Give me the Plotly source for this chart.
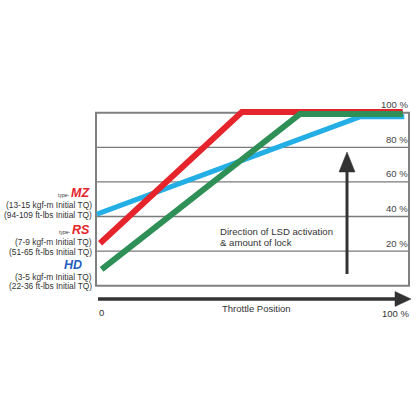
import plotly.graph_objects as go

# ---- data ----
throttle_mz = [0.3, 84.3, 98.5]      # blue, type-MZ
lock_mz = [41.4, 97.6, 97.6]
throttle_rs = [1.3, 46.6, 98.0]      # red, type-RS
lock_rs = [24.5, 100.4, 100.4]
throttle_hd = [1.8, 65.2, 98.0]      # green, type-HD
lock_hd = [9.5, 99.3, 99.3]
grid_levels = [20, 40, 60, 80, 100]
grid_labels = ["20 %", "40 %", "60 %", "80 %", "100 %"]

# ---- layout geometry (pixels) ----
W = H = 416
X0PX, X1PX = 96.0, 409.0       # data x = 0 .. 100
Y0PX, Y1PX = 285.7, 112.7      # data y = 0 .. 100
XR = [-3, 102]
YR = [-10, 110]


def xpx(v):
    return X0PX + v * (X1PX - X0PX) / 100.0


def ypx(v):
    return Y0PX - v * (Y0PX - Y1PX) / 100.0


def px(x):
    return x / W


def py(y):
    return 1 - y / H


FONT = "Liberation Sans, Arial, sans-serif"
RED = "#e5242b"
GREEN = "#2e8f57"
BLUE = "#23aee6"
DARK = "#333333"
GRID = "#7a7a7a"

fig = go.Figure()
fig.add_trace(go.Scatter(x=throttle_mz, y=lock_mz, mode="lines",
                         line=dict(color=BLUE, width=5), name="type-MZ"))
fig.add_trace(go.Scatter(x=throttle_rs, y=lock_rs, mode="lines",
                         line=dict(color=RED, width=6), name="type-RS"))
fig.add_trace(go.Scatter(x=throttle_hd, y=lock_hd, mode="lines",
                         line=dict(color=GREEN, width=6), name="type-HD"))

shapes = []
# gridlines
for lv in grid_levels[:-1]:
    shapes.append(dict(type="line", xref="x", yref="y", x0=0, x1=100, y0=lv, y1=lv,
                       line=dict(color=GRID, width=1.3), layer="below"))
# box
shapes.append(dict(type="rect", xref="x", yref="y", x0=0, x1=100, y0=0, y1=100,
                   line=dict(color="#808080", width=2), layer="below"))

# horizontal throttle arrow
hy = 299
shapes.append(dict(type="line", xref="paper", yref="paper",
                   x0=px(98), x1=px(397), y0=py(hy), y1=py(hy),
                   line=dict(color=DARK, width=3.5)))
shapes.append(dict(type="path", xref="paper", yref="paper",
                   path=f"M {px(395)},{py(hy-7.5)} L {px(411)},{py(hy)} L {px(395)},{py(hy+7.5)} Z",
                   fillcolor=DARK, line=dict(color=DARK, width=0.5)))

# vertical arrow
vx = 347
shapes.append(dict(type="line", xref="paper", yref="paper",
                   x0=px(vx), x1=px(vx), y0=py(274), y1=py(168),
                   line=dict(color=DARK, width=3)))
shapes.append(dict(type="path", xref="paper", yref="paper",
                   path=f"M {px(vx-8)},{py(172)} L {px(vx)},{py(152)} L {px(vx+8)},{py(172)} Z",
                   fillcolor=DARK, line=dict(color=DARK, width=0.5)))

annotations = []


def ann(text, x, y, size, color=DARK, xanchor="center", yanchor="middle"):
    annotations.append(dict(text=text, xref="paper", yref="paper", x=px(x), y=py(y),
                            xanchor=xanchor, yanchor=yanchor, showarrow=False,
                            font=dict(family=FONT, size=size, color=color)))


# right percentage labels
for lv, lab in zip(grid_levels, grid_labels):
    annotations.append(dict(text=lab, xref="paper", yref="y", x=px(410), y=lv,
                            xanchor="right", yanchor="middle", yshift=8, showarrow=False,
                            font=dict(family=FONT, size=9.5, color="#444444")))

# left labels
ann("<b><i>MZ</i></b>", 92, 193, 12.5, RED, xanchor="right")
ann("type-", 71, 195, 5, DARK, xanchor="right")
ann("(13-15 kgf-m Initial TQ)", 94, 205, 8.4, xanchor="right")
ann("(94-109 ft-lbs Initial TQ)", 94, 215, 8.4, xanchor="right")
ann("<b><i>RS</i></b>", 92, 230, 12.5, RED, xanchor="right")
ann("type-", 72, 232, 5, DARK, xanchor="right")
ann("(7-9 kgf-m Initial TQ)", 94, 242, 8.4, xanchor="right")
ann("(51-65 ft-lbs Initial TQ)", 94, 252, 8.4, xanchor="right")
ann("<b><i>HD</i></b>", 84, 265, 12.5, "#1f5fbf", xanchor="right")
ann("(3-5 kgf-m Initial TQ)", 94, 276.5, 8.4, xanchor="right")
ann("(22-36 ft-lbs Initial TQ)", 94, 286, 8.4, xanchor="right")

# middle text
ann("Direction of LSD activation", 218, 231.5, 9.6, xanchor="left")
ann("&amp; amount of lock", 218, 242.5, 9.6, xanchor="left")

# bottom axis text
ann("0", 101, 312, 9.5)
ann("Throttle Position", 256, 308, 9.5)
ann("100 %", 395, 313, 9.5)

fig.update_layout(
    width=W, height=H, autosize=False,
    margin=dict(l=0, r=0, t=0, b=0),
    paper_bgcolor="white", plot_bgcolor="white",
    showlegend=False,
    xaxis=dict(range=XR, domain=[xpx(XR[0]) / W, xpx(XR[1]) / W],
               visible=False, fixedrange=True),
    yaxis=dict(range=YR, domain=[1 - ypx(YR[0]) / H, 1 - ypx(YR[1]) / H],
               visible=False, fixedrange=True),
    shapes=shapes, annotations=annotations,
)

fig.write_html(
    "out.html",
    config={"displayModeBar": False},
    post_script="document.body.style.margin='0';document.body.style.overflow='hidden';",
)
